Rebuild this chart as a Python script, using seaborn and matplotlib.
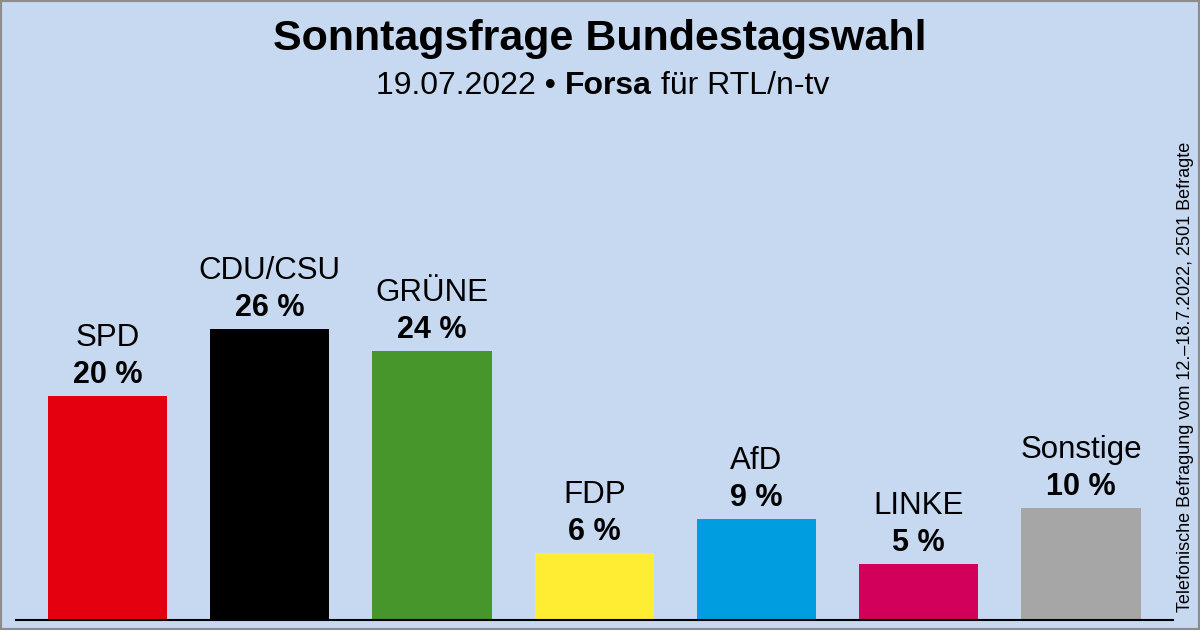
import matplotlib
matplotlib.use("Agg")
import matplotlib.pyplot as plt
import seaborn as sns
from matplotlib.patches import Rectangle

# ---------------------------------------------------------------------------
# Data
# ---------------------------------------------------------------------------
parties = ["SPD", "CDU/CSU", "GRÜNE", "FDP", "AfD", "LINKE", "Sonstige"]
values = [20, 26, 24, 6, 9, 5, 10]
colors = ["#E3000F", "#000000", "#46962B", "#FFED33", "#009EE0", "#D2005A", "#A6A6A6"]

title = "Sonntagsfrage Bundestagswahl"
date_text = "19.07.2022 • "
institute = "Forsa"
client = " für RTL/n-tv"
side_note = "Telefonische Befragung vom 12.–18.7.2022, 2501 Befragte"

BG = "#C6D9F1"

sns.set_theme(style="white")
plt.rcParams["font.family"] = ["Liberation Sans", "DejaVu Sans"]
plt.rcParams["text.color"] = "black"

fig = plt.figure(figsize=(12, 6.3), dpi=100, facecolor=BG)
ax = fig.add_axes([16 / 1200, 10 / 630, 1157 / 1200, 470.4 / 630])
ax.set_facecolor(BG)

sns.barplot(x=parties, y=values, hue=parties, palette=colors, legend=False,
            width=0.735, saturation=1, linewidth=0, ax=ax)

ax.set_xlim(-0.564, 6.567)
ax.set_ylim(0, 42)
ax.set_xticks([])
ax.set_yticks([])
ax.set_xlabel("")
ax.set_ylabel("")
for side in ["top", "left", "right"]:
    ax.spines[side].set_visible(False)
ax.spines["bottom"].set_color("black")
ax.spines["bottom"].set_linewidth(1.5)

for i, (p, v) in enumerate(zip(parties, values)):
    ax.annotate(f"{v} %", (i, v), xytext=(0, 9.4), textcoords="offset points",
                ha="center", va="baseline", fontsize=22, fontweight="bold",
                color="black")
    ax.annotate(p, (i, v), xytext=(0, 36), textcoords="offset points",
                ha="center", va="baseline", fontsize=22.5, color="black")

# Title and subtitle
fig.text(0.5, 1 - 50 / 630, title, ha="center", va="baseline",
         fontsize=31, fontweight="bold", color="black")
sub_y = 1 - 94 / 630
t1 = fig.text(0.5, sub_y, date_text + institute + client, ha="center",
              va="baseline", fontsize=23, alpha=0)
fig.canvas.draw()
x0 = t1.get_window_extent().x0 / fig.bbox.width
a = fig.text(x0, sub_y, date_text, ha="left", va="baseline", fontsize=23)
fig.canvas.draw()
xb = a.get_window_extent().x1 / fig.bbox.width
b = fig.text(xb, sub_y, institute, ha="left", va="baseline",
             fontsize=23, fontweight="bold")
fig.canvas.draw()
xc = b.get_window_extent().x1 / fig.bbox.width
fig.text(xc, sub_y, client, ha="left", va="baseline", fontsize=23)

# Side note
fig.text(1194 / 1200, 1 - 612 / 630, side_note, rotation=90, ha="right",
         va="bottom", fontsize=13)

# Border
fig.add_artist(Rectangle((0, 0), 1, 1, transform=fig.transFigure, fill=False,
                         edgecolor="#8C8C8C", linewidth=3))

fig.savefig("out.png", dpi=100, facecolor=BG)
